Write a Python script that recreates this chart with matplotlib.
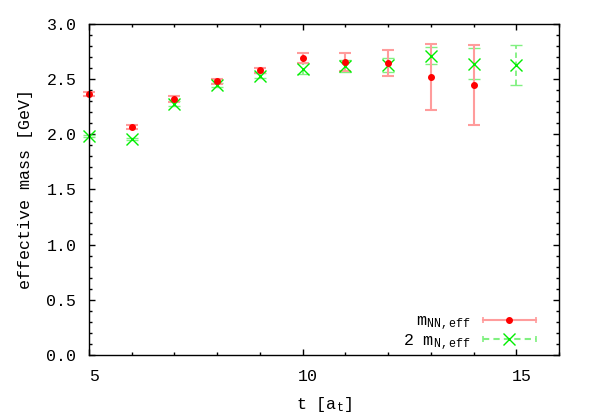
import matplotlib
matplotlib.use('Agg')
import matplotlib.pyplot as plt
from matplotlib.legend_handler import HandlerBase
from matplotlib.lines import Line2D
from matplotlib.ticker import MultipleLocator
import matplotlib.transforms as mtransforms

plt.rcParams['font.family'] = ['Liberation Mono', 'DejaVu Sans Mono']
plt.rcParams['mathtext.fontset'] = 'custom'
plt.rcParams['mathtext.rm'] = 'Liberation Mono'
plt.rcParams['mathtext.it'] = 'Liberation Mono'

# data
t_nn = [5, 6, 7, 8, 9, 10, 11, 12, 13, 14]
m_nn = [2.363, 2.067, 2.320, 2.480, 2.580, 2.693, 2.656, 2.648, 2.522, 2.448]
m_nn_err = [0.020, 0.015, 0.025, 0.020, 0.020, 0.043, 0.080, 0.118, 0.300, 0.360]

t_n = [5, 6, 7, 8, 9, 10, 11, 12, 13, 14, 15]
m_n2 = [1.988, 1.961, 2.278, 2.448, 2.532, 2.593, 2.620, 2.626, 2.714, 2.641, 2.626]
m_n2_err = [0.010, 0.010, 0.020, 0.020, 0.020, 0.050, 0.053, 0.065, 0.076, 0.140, 0.180]

red = '#ff0000'
red_bar = '#ff9c9c'
green = '#00ee00'
green_bar = '#80f080'


class HandlerHBar(HandlerBase):
    # horizontal errorbar look for the key, like gnuplot draws it
    def __init__(self, bar_color, ls, marker, mcolor, ms, mew=1.0):
        HandlerBase.__init__(self)
        self.bar_color = bar_color
        self.ls = ls
        self.marker = marker
        self.mcolor = mcolor
        self.ms = ms
        self.mew = mew

    def create_artists(self, legend, orig_handle, xdescent, ydescent,
                       width, height, fontsize, trans):
        y = height / 2 - ydescent
        x0 = -xdescent
        x1 = width - xdescent
        line = Line2D([x0, x1], [y, y], color=self.bar_color, ls=self.ls, lw=1.5)
        caps = Line2D([x0, x1], [y, y], color=self.bar_color, ls='none',
                      marker='|', ms=5, mew=1.2)
        mk = Line2D([(x0 + x1) / 2], [y], color=self.mcolor, ls='none',
                    marker=self.marker, ms=self.ms, mew=self.mew)
        for a in (line, caps, mk):
            a.set_transform(trans)
        return [line, caps, mk]


fig = plt.figure(figsize=(5.93, 4.15), dpi=100)
ax = fig.add_axes([0.150, 0.1446, 0.793, 0.7976])

eb_n = ax.errorbar(t_n, m_n2, yerr=m_n2_err, fmt='x', color=green, ms=8, mew=1.0,
                   ecolor=green_bar, elinewidth=1.3, capsize=4, capthick=1.3)
eb_n[2][0].set_linestyle((0, (3, 2)))

eb_nn = ax.errorbar(t_nn, m_nn, yerr=m_nn_err, fmt='o', color=red, ms=4,
                    ecolor=red_bar, elinewidth=1.5, capsize=4, capthick=1.5)

# gnuplot does not clip points sitting on the border
for eb in (eb_n, eb_nn):
    eb[0].set_clip_on(False)
    for c in eb[1]:
        c.set_clip_on(False)
    for b in eb[2]:
        b.set_clip_on(False)

ax.set_xlim(5, 16)
ax.set_ylim(0, 3.0)
ax.xaxis.set_major_locator(MultipleLocator(5))
ax.xaxis.set_minor_locator(MultipleLocator(1))
ax.yaxis.set_major_locator(MultipleLocator(0.5))
ax.yaxis.set_minor_locator(MultipleLocator(0.1))
ax.yaxis.set_major_formatter(plt.FormatStrFormatter('%.1f'))
ax.tick_params(which='both', direction='in', top=True, right=True, labelsize=12)
ax.tick_params(axis='y', which='major', length=4.5, width=1, pad=9)
ax.tick_params(axis='x', which='major', length=4.5, width=1, pad=10)
ax.tick_params(which='minor', length=2.5, width=1)
for sp in ax.spines.values():
    sp.set_linewidth(1.0)

# gnuplot puts the x numbers a bit to the right
shift = mtransforms.ScaledTranslation(5 / 100, 0, fig.dpi_scale_trans)
for lab in ax.get_xticklabels():
    lab.set_transform(lab.get_transform() + shift)

ax.set_xlabel(r't [$\mathrm{a_t}$]', fontsize=12, labelpad=8)
ax.set_ylabel('effective mass [GeV]', fontsize=12, labelpad=10)

ax.legend([eb_nn, eb_n], [r'$\mathrm{m_{NN,eff}}$', r'2 $\mathrm{m_{N,eff}}$'],
          handler_map={eb_nn: HandlerHBar(red_bar, '-', 'o', red, 4),
                       eb_n: HandlerHBar(green_bar, (0, (3, 2)), 'x', green, 8)},
          loc='lower right', bbox_to_anchor=(0.965, -0.01), frameon=False, markerfirst=False,
          fontsize=12, handlelength=3.2, handletextpad=0.7, labelspacing=0.0,
          borderaxespad=0.0)

fig.savefig('out.png', dpi=100)
